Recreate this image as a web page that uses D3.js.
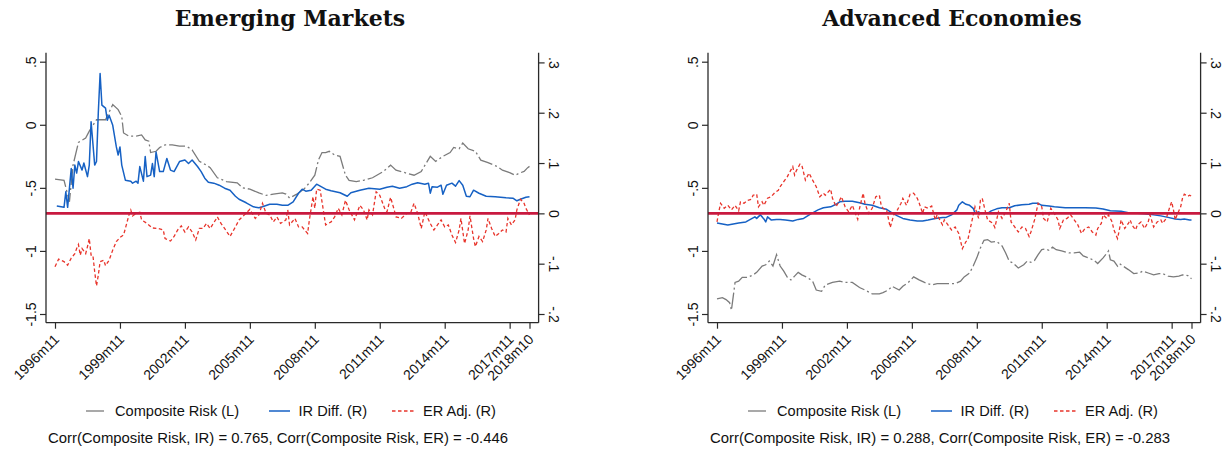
<!DOCTYPE html>
<html>
<head>
<meta charset="utf-8">
<script src="https://cdn.jsdelivr.net/npm/d3@7"></script>
<style>
  html, body { margin: 0; padding: 0; background: #fff; }
  svg { display: block; }
  text { font-family: "Liberation Sans", Arial, Helvetica, sans-serif; fill: #111; }
  .title { font-family: "DejaVu Serif", "Liberation Serif", serif; font-weight: bold; }
</style>
</head>
<body>
<svg id="chart" width="1223" height="454"></svg>
<script>
// ---------------- DATA ----------------
const panelTitles = ["Emerging Markets", "Advanced Economies"];
const legendLabels = ["Composite Risk (L)", "IR Diff. (R)", "ER Adj. (R)"];
const corrNotes = [
  "Corr(Composite Risk, IR) = 0.765, Corr(Composite Risk, ER) = -0.446",
  "Corr(Composite Risk, IR) = 0.288, Corr(Composite Risk, ER) = -0.283"
];
const xTickLabels = ["1996m11","1999m11","2002m11","2005m11","2008m11","2011m11","2014m11","2017m11","2018m10"];
const leftTicks = [0.5, 0, -0.5, -1, -1.5];
const leftTickLabels = [".5", "0", "-.5", "-1", "-1.5"];
const rightTicks = [0.3, 0.2, 0.1, 0, -0.1, -0.2];
const rightTickLabels = [".3", ".2", ".1", "0", "-.1", "-.2"];

// months are counted from 1996m11 (= 0) to 2018m10 (= 263)
// ---- Emerging Markets ----
const emRiskMonths = [0,5,8,10,13,17,19,23,28,32,35,37,38,41,45,48,50,52,53,56,58,61,65,69,73,76,80,84,86,90,95,101,104,108,113,117,121,126,128,130,134,138,141,144,146,148,150,152,155,158,161,163,167,171,176,182,186,189,194,199,203,208,211,215,219,221,224,226,229,233,236,240,245,248,252,255,258,260,262,263];
const emRisk = [-0.43,-0.44,-0.61,-0.32,-0.14,-0.105,-0.05,0.04,0.04,0.16,0.12,0.066,-0.065,-0.09,-0.09,-0.08,-0.12,-0.13,-0.22,-0.21,-0.18,-0.16,-0.16,-0.17,-0.17,-0.20,-0.29,-0.32,-0.34,-0.42,-0.45,-0.46,-0.50,-0.51,-0.54,-0.56,-0.55,-0.54,-0.55,-0.58,-0.55,-0.51,-0.46,-0.40,-0.28,-0.22,-0.22,-0.21,-0.24,-0.25,-0.40,-0.44,-0.45,-0.44,-0.42,-0.37,-0.32,-0.36,-0.38,-0.40,-0.37,-0.25,-0.29,-0.25,-0.22,-0.18,-0.19,-0.145,-0.19,-0.21,-0.28,-0.30,-0.33,-0.36,-0.38,-0.40,-0.38,-0.37,-0.34,-0.33];

const emIRMonths = [1,5,6,7,9,10,11,12,13,15,16,18,19,20,22,23,24,25,26,28,29,30,32,34,35,36,37,39,42,43,45,46,47,49,50,51,53,54,55,56,58,60,62,64,66,69,72,74,76,79,81,83,85,88,91,94,97,100,102,106,110,113,115,119,123,126,129,132,135,137,139,142,145,147,150,153,158,162,164,169,174,180,184,187,191,195,198,201,205,207,208,209,212,214,215,217,220,222,224,226,228,230,232,235,239,244,250,254,256,258,261,263];
const emIR = [0.0145,0.012,0.043,0.012,0.089,0.05,0.096,0.08,0.103,0.086,0.10,0.073,0.096,0.182,0.096,0.103,0.2,0.278,0.215,0.209,0.185,0.195,0.175,0.132,0.116,0.132,0.096,0.066,0.064,0.06,0.064,0.06,0.093,0.064,0.113,0.073,0.076,0.099,0.073,0.122,0.083,0.083,0.109,0.086,0.083,0.103,0.106,0.099,0.106,0.093,0.083,0.07,0.062,0.06,0.056,0.05,0.046,0.034,0.028,0.021,0.013,0.011,0.013,0.018,0.018,0.016,0.016,0.023,0.04,0.048,0.044,0.046,0.058,0.054,0.048,0.045,0.041,0.034,0.041,0.046,0.05,0.048,0.052,0.054,0.05,0.053,0.058,0.061,0.058,0.06,0.04,0.053,0.052,0.056,0.038,0.056,0.06,0.054,0.065,0.056,0.034,0.033,0.046,0.04,0.034,0.033,0.031,0.03,0.025,0.028,0.032,0.033];

const emERMonths = [0,2,5,7,9,11,12,13,14,15,17,18,19,20,21,22,23,24,25,27,28,30,32,34,36,38,39,41,42,43,45,47,48,51,54,57,60,61,64,66,68,70,72,74,76,78,80,82,84,86,89,90,92,94,97,100,102,105,108,111,113,115,117,119,121,123,125,128,129,130,133,135,137,140,141,143,144,145,147,148,150,153,155,157,159,161,163,166,169,171,173,174,176,178,180,183,184,186,188,189,192,195,197,199,201,203,205,208,210,212,214,216,218,220,222,224,225,227,229,230,232,233,235,237,239,240,242,244,246,248,250,251,253,255,256,258,260,261,263];
const emER = [-0.106,-0.091,-0.096,-0.103,-0.089,-0.08,-0.07,-0.062,-0.083,-0.07,-0.08,-0.066,-0.05,-0.083,-0.083,-0.116,-0.144,-0.123,-0.096,-0.093,-0.104,-0.093,-0.073,-0.056,-0.048,-0.043,-0.03,-0.003,0.0066,-0.005,0,0.002,-0.013,-0.02,-0.029,-0.03,-0.033,-0.05,-0.055,-0.046,-0.033,-0.025,-0.037,-0.027,-0.037,-0.053,-0.03,-0.03,-0.02,-0.03,-0.013,-0.007,-0.02,-0.03,-0.046,-0.027,-0.013,-0.003,0.008,-0.01,-0.003,0.02,0,-0.003,-0.017,-0.007,-0.02,-0.013,0.007,-0.023,-0.01,-0.027,-0.027,-0.04,-0.013,0.033,0.01,0.048,0.046,0.023,-0.023,-0.017,-0.007,0.01,-0.003,0.026,0.007,-0.013,0.016,0.007,-0.013,0.007,-0.003,0.043,0.036,0.007,0.003,0.032,0.007,-0.007,-0.01,0,0,0.02,0,-0.03,0.003,-0.02,-0.033,-0.023,-0.013,-0.027,-0.023,-0.043,-0.058,-0.033,-0.01,-0.06,-0.033,-0.005,-0.05,-0.066,-0.046,-0.056,-0.033,-0.01,-0.03,-0.046,-0.04,-0.033,-0.037,-0.01,-0.023,-0.013,0.007,0.028,0.02,0.01,-0.003];

// ---- Advanced Economies ----
const aeRiskMonths = [0,3,5,7,8,9,10,12,14,17,20,22,25,27,29,31,33,35,37,39,41,43,45,47,50,53,55,58,60,64,68,71,75,79,82,86,90,92,95,97,101,103,106,109,112,115,119,122,125,128,132,135,137,140,142,144,146,148,150,152,155,158,160,162,164,167,170,172,174,176,178,180,182,184,186,188,191,195,198,201,203,206,209,211,214,216,217,218,220,222,223,225,228,231,234,236,239,242,245,247,250,253,256,258,261,263];
const aeRisk = [-1.38,-1.37,-1.386,-1.41,-1.47,-1.36,-1.25,-1.24,-1.21,-1.21,-1.19,-1.17,-1.12,-1.11,-1.08,-1.12,-1.03,-1.12,-1.16,-1.21,-1.23,-1.20,-1.17,-1.19,-1.21,-1.24,-1.31,-1.32,-1.27,-1.25,-1.24,-1.25,-1.25,-1.29,-1.31,-1.34,-1.34,-1.33,-1.31,-1.28,-1.31,-1.28,-1.25,-1.206,-1.23,-1.25,-1.27,-1.26,-1.26,-1.26,-1.26,-1.24,-1.206,-1.175,-1.12,-1.055,-0.976,-0.916,-0.91,-0.93,-0.925,-0.96,-1.016,-1.082,-1.095,-1.135,-1.11,-1.08,-1.09,-1.075,-1.03,-0.99,-0.985,-0.995,-0.97,-0.99,-1.0,-1.016,-1.016,-1.01,-1.04,-1.055,-1.075,-1.10,-1.055,-1.02,-1.0,-1.07,-1.08,-1.12,-1.10,-1.12,-1.148,-1.18,-1.175,-1.16,-1.175,-1.19,-1.18,-1.18,-1.20,-1.206,-1.20,-1.19,-1.195,-1.22];

const aeIRMonths = [0,3,6,9,12,16,18,21,22,24,26,27,28,30,33,35,38,42,45,48,52,56,59,63,66,68,71,75,79,82,86,90,94,97,100,103,107,111,114,117,121,125,127,130,133,134,136,138,140,142,143,145,146,148,150,152,155,158,162,165,169,173,175,178,180,184,187,193,198,204,210,214,218,221,224,228,233,237,242,246,250,254,257,259,262,263];
const aeIR = [-0.019,-0.021,-0.023,-0.021,-0.019,-0.017,-0.013,-0.007,-0.01,-0.003,-0.011,-0.017,-0.007,-0.013,-0.012,-0.012,-0.013,-0.015,-0.012,-0.01,-0.001,0.007,0.011,0.013,0.018,0.023,0.024,0.024,0.021,0.018,0.016,0.011,0.008,0.001,-0.005,-0.01,-0.013,-0.015,-0.015,-0.013,-0.01,-0.008,-0.008,-0.003,0.007,0.016,0.023,0.018,0.016,0.01,0.001,0.003,0,0.001,0,0.005,0.009,0.011,0.011,0.015,0.017,0.018,0.02,0.02,0.016,0.0145,0.013,0.011,0.011,0.011,0.0105,0.0085,0.005,0.0045,0.004,0.001,0,-0.001,-0.003,-0.005,-0.008,-0.011,-0.012,-0.011,-0.013,-0.013];

const aeERMonths = [0,1,2,4,6,8,10,12,13,15,17,19,20,22,23,25,26,28,30,32,34,35,37,39,40,42,43,44,46,47,49,51,53,55,57,59,60,63,64,66,69,71,73,75,77,78,79,81,82,84,86,88,90,91,92,94,96,98,100,102,103,105,107,109,111,112,114,115,117,119,121,122,125,126,128,130,132,134,136,138,139,141,143,145,146,147,149,150,153,154,156,158,160,162,163,165,167,169,171,173,174,176,178,180,181,183,185,187,189,190,192,194,196,198,200,202,204,206,208,210,211,213,214,216,217,219,220,222,223,224,226,228,229,230,232,233,235,237,239,240,242,244,246,247,249,251,252,253,254,255,257,258,259,261,262,263];
const aeER = [-0.017,0.003,0.02,0.01,0.016,0.007,0.016,0.005,0.023,0.02,0.026,0.028,0.036,0.038,0.013,0.023,0.016,0.03,0.033,0.041,0.046,0.053,0.063,0.073,0.08,0.093,0.076,0.085,0.098,0.096,0.066,0.08,0.066,0.053,0.033,0.04,0.036,0.048,0.03,0.013,0.033,0.013,0.003,0.016,-0.003,-0.012,0.01,0.04,0.02,0.0,0.01,0.033,0.036,0.016,0.01,0.007,-0.028,-0.003,0.007,0.02,0.03,0.016,0.038,0.04,0.03,0.021,0,0.013,0.01,0.0145,-0.013,-0.003,-0.023,-0.013,-0.023,-0.033,-0.027,-0.04,-0.07,-0.056,-0.053,-0.02,0.013,-0.01,0.026,0.03,0,-0.013,-0.02,-0.028,0.003,-0.01,0.003,0.02,-0.017,-0.027,-0.037,-0.027,-0.03,-0.046,-0.037,-0.013,0.02,0.013,-0.01,-0.017,0.01,0,-0.013,-0.03,-0.013,-0.01,-0.003,-0.013,-0.023,-0.04,-0.03,-0.027,-0.037,-0.043,-0.03,-0.02,-0.003,-0.01,-0.003,-0.017,-0.033,-0.05,-0.033,-0.013,-0.03,-0.02,-0.013,-0.023,-0.033,-0.023,-0.017,-0.03,-0.017,-0.003,-0.027,-0.017,-0.013,-0.02,-0.01,0.013,0.023,0.007,-0.013,-0.003,0.013,0.03,0.038,0.034,0.036,0.034];

// ---------------- DRAW ----------------
const svg = d3.select("#chart");
const C = { risk: "#7b7b7b", ir: "#1661c4", er: "#e8342b", zero: "#c8193f", axis: "#2a2a2a" };

const monthOf = s => { const [y, m] = s.split("m").map(Number); return (y - 1996) * 12 + (m - 11); };
const zip = (ms, vs) => ms.map((m, i) => ({ m, v: vs[i] }));

const panels = [
  { title: panelTitles[0], note: corrNotes[0], risk: zip(emRiskMonths, emRisk), ir: zip(emIRMonths, emIR), er: zip(emERMonths, emER) },
  { title: panelTitles[1], note: corrNotes[1], risk: zip(aeRiskMonths, aeRisk), ir: zip(aeIRMonths, aeIR), er: zip(aeERMonths, aeER) }
];

const P = { left: 46, right: 538.6, top: 52.7, bottom: 322.7 };
const x = d3.scaleLinear().domain([0, 263]).range([55, 529.5]);
const yL = d3.scaleLinear().domain([-1.5, 0.5]).range([314, 61.7]);
const yR = d3.scaleLinear().domain([-0.2, 0.3]).range([314, 62.4]);

panels.forEach((p, i) => {
  const g = svg.append("g").attr("transform", `translate(${i * 662},0)`);

  g.append("text").attr("class", "title")
    .attr("x", 290).attr("y", 26).attr("text-anchor", "middle")
    .attr("font-size", 22).text(p.title);

  const clipId = "clip" + i;
  g.append("clipPath").attr("id", clipId).append("rect")
    .attr("x", P.left).attr("y", P.top).attr("width", P.right - P.left).attr("height", P.bottom - P.top);
  const plot = g.append("g").attr("clip-path", `url(#${clipId})`);

  const lineL = d3.line().x(d => x(d.m)).y(d => yL(d.v));
  const lineR = d3.line().x(d => x(d.m)).y(d => yR(d.v));

  plot.append("path").datum(p.risk).attr("d", lineL)
    .attr("fill", "none").attr("stroke", C.risk).attr("stroke-width", 1.3)
    .attr("stroke-dasharray", "16,3,2,3");
  plot.append("path").datum(p.ir).attr("d", lineR)
    .attr("fill", "none").attr("stroke", C.ir).attr("stroke-width", 1.5)
    .attr("stroke-linejoin", "round");
  plot.append("path").datum(p.er).attr("d", lineR)
    .attr("fill", "none").attr("stroke", C.er).attr("stroke-width", 1.3)
    .attr("stroke-dasharray", "3.5,2.5");

  g.append("line").attr("x1", P.left).attr("x2", P.right)
    .attr("y1", yR(0)).attr("y2", yR(0))
    .attr("stroke", C.zero).attr("stroke-width", 2.6);

  const axL = g.append("g").attr("transform", `translate(${P.left},0)`)
    .call(d3.axisLeft(yL).tickValues(leftTicks).tickSize(6)
      .tickFormat((d, k) => leftTickLabels[k]));
  axL.select(".domain").attr("d", `M0,${P.top}V${P.bottom}`);
  axL.selectAll(".tick text").attr("transform", "rotate(-90)")
    .attr("x", 0).attr("y", -10).attr("dy", 0).attr("text-anchor", "middle");

  const axR = g.append("g").attr("transform", `translate(${P.right},0)`)
    .call(d3.axisRight(yR).tickValues(rightTicks).tickSize(6)
      .tickFormat((d, k) => rightTickLabels[k]));
  axR.select(".domain").attr("d", `M0,${P.top}V${P.bottom}`);
  axR.selectAll(".tick text").attr("transform", "rotate(90)")
    .attr("x", 0).attr("y", -10).attr("dy", 0).attr("text-anchor", "middle");

  const axB = g.append("g").attr("transform", `translate(0,${P.bottom})`)
    .call(d3.axisBottom(x).tickValues(xTickLabels.map(monthOf)).tickSize(6)
      .tickFormat((d, k) => xTickLabels[k]));
  axB.select(".domain").attr("d", `M${P.left},0H${P.right}`);
  axB.selectAll(".tick text")
    .attr("transform", "translate(1,14) rotate(-45)")
    .attr("x", 0).attr("y", 0).attr("dy", "0.35em").attr("text-anchor", "end");

  [axL, axR, axB].forEach(a => {
    a.selectAll(".domain").attr("stroke", C.axis).attr("stroke-width", 1.3);
    a.selectAll(".tick line").attr("stroke", C.axis).attr("stroke-width", 1.2);
    a.selectAll(".tick text").attr("font-size", 14).attr("fill", "#111")
      .attr("font-family", '"Liberation Sans", Arial, sans-serif');
  });

  const leg = g.append("g").attr("transform", "translate(0,411)");
  const items = [
    { x0: 86, x1: 104, tx: 115, color: C.risk, dash: null, w: 1.3 },
    { x0: 269, x1: 290, tx: 298.5, color: C.ir, dash: null, w: 1.5 },
    { x0: 392, x1: 414, tx: 423, color: C.er, dash: "3.5,2.5", w: 1.3 }
  ];
  items.forEach((it, k) => {
    leg.append("line").attr("x1", it.x0).attr("x2", it.x1).attr("y1", 0).attr("y2", 0)
      .attr("stroke", it.color).attr("stroke-width", it.w)
      .attr("stroke-dasharray", it.dash);
    leg.append("text").attr("x", it.tx).attr("y", 0).attr("dy", "0.35em")
      .attr("font-size", 14.6).text(legendLabels[k]);
  });

  g.append("text").attr("x", 278).attr("y", 438).attr("dy", "0.35em")
    .attr("text-anchor", "middle").attr("font-size", 14.9).text(p.note);
});
</script>
</body>
</html>
